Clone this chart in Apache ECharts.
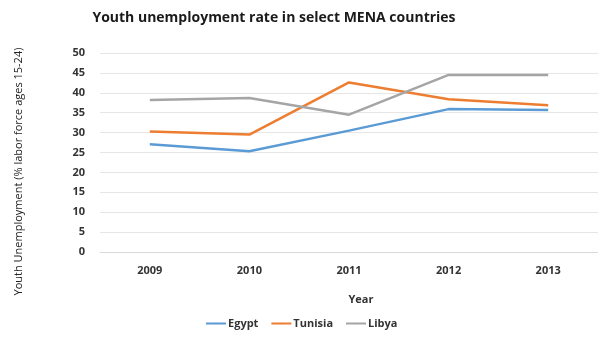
<!DOCTYPE html>
<html>
<head>
<meta charset="utf-8">
<script src="https://cdn.jsdelivr.net/npm/echarts@6/dist/echarts.min.js"></script>
<style>
  html, body { margin: 0; padding: 0; background: #fff; }
  #chart { width: 598px; height: 338px; }
</style>
</head>
<body>
<div id="chart"></div>
<script>
var years = ['2009', '2010', '2011', '2012', '2013'];
var egypt = [27.1, 25.3, 30.5, 35.9, 35.7];
var tunisia = [30.3, 29.5, 42.6, 38.4, 36.9];
var libya = [38.2, 38.7, 34.5, 44.5, 44.5];

var chart = echarts.init(document.getElementById('chart'));
var font = '"Open Sans", Lato, sans-serif';

chart.setOption({
  backgroundColor: '#fff',
  animation: false,
  textStyle: { fontFamily: font },
  title: {
    text: 'Youth unemployment rate in select MENA countries',
    left: 269,
    textAlign: 'center',
    top: 6,
    textStyle: { fontSize: 14, fontWeight: 'bold', color: '#1a1a1a', fontFamily: font }
  },
  legend: {
    bottom: 4,
    left: 200,
    itemWidth: 20,
    itemHeight: 2,
    itemGap: 12,
    data: ['Egypt', 'Tunisia', 'Libya'],
    textStyle: { fontSize: 11, fontWeight: 'bold', color: '#333', padding: [0, 0, 0, -3] }
  },
  grid: { left: 100, right: 0, top: 53, bottom: 86, containLabel: false },
  xAxis: {
    type: 'category',
    data: years,
    boundaryGap: true,
    name: 'Year',
    nameLocation: 'middle',
    nameGap: 42,
    nameTextStyle: { fontSize: 11, fontWeight: 'bold', color: '#333', padding: [0, 0, 0, 24] },
    axisLine: { lineStyle: { color: '#d9d9d9' } },
    axisTick: { show: false },
    axisLabel: { fontSize: 11, fontWeight: 'bold', color: '#333', margin: 13 }
  },
  yAxis: {
    type: 'value',
    min: 0,
    max: 50,
    interval: 5,
    name: 'Youth Unemployment (% labor force ages 15-24)',
    nameLocation: 'middle',
    nameGap: 76,
    nameTextStyle: { fontSize: 11, color: '#222', padding: [0, 38, 0, 0] },
    axisLine: { show: false },
    axisTick: { show: false },
    axisLabel: { fontSize: 11, fontWeight: 'bold', color: '#333', margin: 15 },
    splitLine: { lineStyle: { color: '#e6e6e6' } }
  },
  series: [
    { name: 'Egypt', type: 'line', data: egypt, symbol: 'none',
      lineStyle: { width: 2.5, color: '#5B9BD5' }, itemStyle: { color: '#5B9BD5' } },
    { name: 'Tunisia', type: 'line', data: tunisia, symbol: 'none',
      lineStyle: { width: 2.5, color: '#ED7D31' }, itemStyle: { color: '#ED7D31' } },
    { name: 'Libya', type: 'line', data: libya, symbol: 'none',
      lineStyle: { width: 2.5, color: '#A5A5A5' }, itemStyle: { color: '#A5A5A5' } }
  ]
});
</script>
</body>
</html>
